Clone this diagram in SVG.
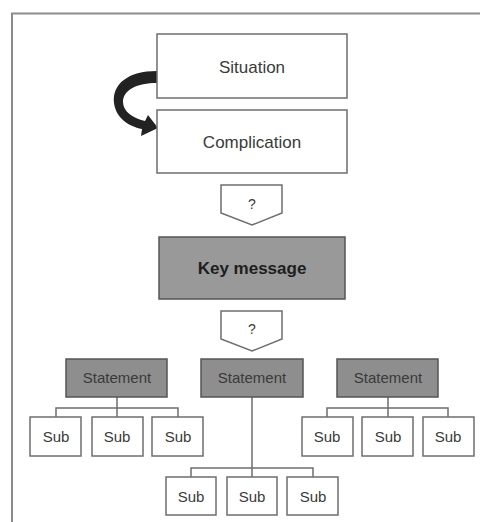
<svg xmlns="http://www.w3.org/2000/svg" width="480" height="522" viewBox="0 0 480 522">
  <style>
    .frame { fill: none; stroke: #8c8c8c; stroke-width: 2; }
    .box { fill: #ffffff; stroke: #6e6e6e; stroke-width: 1.5; }
    .dark { fill: #999999; stroke: #555555; stroke-width: 1.5; }
    .stmt { fill: #8e8e8e; stroke: #555555; stroke-width: 1.5; }
    .lbl { font-family: "Liberation Sans", Arial, sans-serif; fill: #3a3a3a; text-anchor: middle; }
    .big { font-size: 17px; }
    .bold { font-size: 17px; font-weight: bold; fill: #1e1e1e; }
    .small { font-size: 15px; }
    .q { font-size: 14px; }
    .link { fill: none; stroke: #6e6e6e; stroke-width: 1.5; }
  </style>

  <rect width="480" height="522" fill="#ffffff"/>
  <!-- outer frame, open on the right and bottom -->
  <path class="frame" d="M12,522 V13.5 H480"/>

  <g id="connectors">
    <!-- curved arrow from Situation to Complication -->
    <path fill="#222222" d="M157,71 C128,71 112,84 114,103 C116,118 128,126 142,129 L141,136 L158,128 L148,115 L145,121 C132,118 123,111 123,102 C123,90 137,83 157,83 Z"/>
    <!-- left statement to its subs -->
    <path class="link" d="M117,397 V408 M56,417 V408 H178 V417 M117,408 V417"/>
    <!-- middle statement to its subs -->
    <path class="link" d="M252,397 V477 M191,477 V468 H313 V477"/>
    <!-- right statement to its subs -->
    <path class="link" d="M388,397 V417 M327,417 V408 H448 V417"/>
  </g>

  <g id="situation">
    <rect class="box" x="157" y="34" width="190" height="64"/>
    <text class="lbl big" x="252" y="73">Situation</text>
  </g>
  <g id="complication">
    <rect class="box" x="157" y="110" width="190" height="63"/>
    <text class="lbl big" x="252" y="148">Complication</text>
  </g>
  <g id="question-1">
    <polygon class="box" points="221,185 282,185 282,213 252,225 221,213"/>
    <text class="lbl q" x="252" y="209">?</text>
  </g>
  <g id="key-message">
    <rect class="dark" x="159" y="237" width="186" height="62"/>
    <text class="lbl bold" x="252" y="274">Key message</text>
  </g>
  <g id="question-2">
    <polygon class="box" points="221,311 282,311 282,339 252,351 221,339"/>
    <text class="lbl q" x="252" y="334">?</text>
  </g>

  <g id="statement-left">
    <rect class="stmt" x="66" y="359" width="101" height="38"/>
    <text class="lbl small" x="117" y="383">Statement</text>
  </g>
  <g id="statement-middle">
    <rect class="stmt" x="201" y="359" width="102" height="38"/>
    <text class="lbl small" x="252" y="383">Statement</text>
  </g>
  <g id="statement-right">
    <rect class="stmt" x="337" y="359" width="101" height="38"/>
    <text class="lbl small" x="388" y="383">Statement</text>
  </g>

  <g id="sub-l1"><rect class="box" x="30" y="417" width="51" height="39"/><text class="lbl small" x="56" y="442">Sub</text></g>
  <g id="sub-l2"><rect class="box" x="92" y="417" width="51" height="39"/><text class="lbl small" x="117" y="442">Sub</text></g>
  <g id="sub-l3"><rect class="box" x="152" y="417" width="51" height="39"/><text class="lbl small" x="178" y="442">Sub</text></g>

  <g id="sub-m1"><rect class="box" x="166" y="477" width="50" height="38"/><text class="lbl small" x="191" y="502">Sub</text></g>
  <g id="sub-m2"><rect class="box" x="227" y="477" width="50" height="38"/><text class="lbl small" x="252" y="502">Sub</text></g>
  <g id="sub-m3"><rect class="box" x="287" y="477" width="51" height="38"/><text class="lbl small" x="313" y="502">Sub</text></g>

  <g id="sub-r1"><rect class="box" x="302" y="417" width="51" height="39"/><text class="lbl small" x="327" y="442">Sub</text></g>
  <g id="sub-r2"><rect class="box" x="362" y="417" width="51" height="39"/><text class="lbl small" x="388" y="442">Sub</text></g>
  <g id="sub-r3"><rect class="box" x="423" y="417" width="51" height="39"/><text class="lbl small" x="448" y="442">Sub</text></g>
</svg>
